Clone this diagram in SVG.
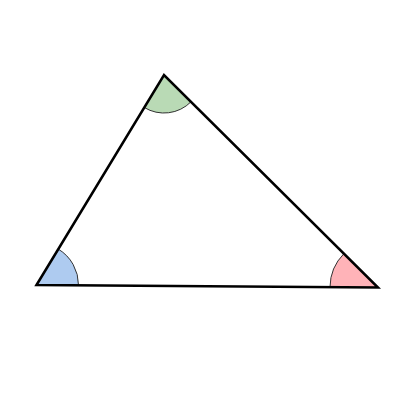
<svg xmlns="http://www.w3.org/2000/svg" width="400" height="400" viewBox="0 0 400 400">
<style>
.ang{stroke:#333;stroke-width:1}
.tri{fill:none;stroke:#000;stroke-width:2.5;stroke-linejoin:miter}
</style>
<rect width="400" height="400" fill="#fff"/>
<g id="angle-top"><path class="ang" fill="#b9dab5" d="M164 75 L144.3 107.5 A38 38 0 0 0 191 101.8 Z"/></g>
<g id="angle-left"><path class="ang" fill="#aecbf0" d="M36.5 285 L78.5 285.3 A42 42 0 0 0 58.3 249.1 Z"/></g>
<g id="angle-right"><path class="ang" fill="#ffb3b8" d="M378 287.5 L343.9 253.7 A48 48 0 0 0 330 287.1 Z"/></g>
<g id="triangle"><path class="tri" d="M36.5 285 L164 75 L378 287.5 Z"/></g>
</svg>
